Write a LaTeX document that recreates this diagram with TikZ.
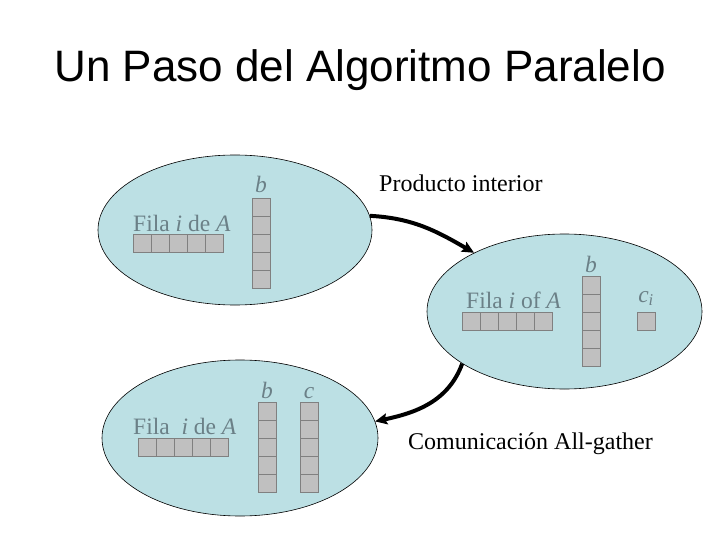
\documentclass[tikz,border=0pt]{standalone}
\usepackage{fontspec}
\setmainfont{Liberation Serif}
\newfontfamily\titlefont{Liberation Sans}
\usetikzlibrary{shapes.geometric,arrows.meta}
\definecolor{blobfill}{RGB}{188,224,228}
\definecolor{txtgray}{RGB}{107,128,135}
\definecolor{cellfill}{RGB}{192,192,192}
\definecolor{celldraw}{RGB}{128,128,128}
\tikzset{
  blob/.style={ellipse, draw=black, line width=0.6pt, fill=blobfill, inner sep=0pt},
  cell/.style={draw=celldraw, fill=cellfill, line width=0.8pt},
  lbl/.style={text=txtgray, font=\fontsize{23.5}{26}\selectfont, inner sep=0pt, anchor=base west},
  blk/.style={text=black, font=\fontsize{24}{26}\selectfont, inner sep=0pt, anchor=base west},
  conn/.style={line width=4pt, -{Stealth[length=12pt,width=11pt,inset=2pt]}},
}
\newcommand{\rowcells}[2]{% x,y top-left
  \foreach \k in {0,...,4} {\draw[cell] ({#1+18*\k},#2) rectangle ++(18,18);}}
\newcommand{\colcells}[2]{%
  \foreach \k in {0,...,4} {\draw[cell] (#1,{#2+18*\k}) rectangle ++(18,18);}}
\begin{document}
\begin{tikzpicture}[x=1pt,y=-1pt]
\useasboundingbox (0,0) rectangle (720,540);
\fill[white] (0,0) rectangle (720,540);
% title
\node[font=\titlefont\fontsize{44}{48}\selectfont, inner sep=0pt, anchor=base] (title) at (360,82) {Un Paso del Algoritmo Paralelo};
% ellipses
\node[blob, minimum width=274pt, minimum height=150pt] (e1) at (235,230) {};
\node[blob, minimum width=275pt, minimum height=155pt] (e2) at (564.5,311.5) {};
\node[blob, minimum width=276pt, minimum height=156pt] (e3) at (240,438) {};
% ellipse 1 content
\node[lbl] (f1) at (133,231) {Fila \textit{i} de \textit{A}};
\rowcells{133}{234}
\node[lbl, anchor=base] (b1) at (261,193) {\textit{b}};
\colcells{252}{198}
% ellipse 2 content
\node[lbl] (f2) at (466,308) {Fila \textit{i} of \textit{A}};
\rowcells{462}{312}
\node[lbl, anchor=base] (b2) at (591,272) {\textit{b}};
\colcells{582}{276}
\node[lbl, anchor=base] (ci) at (646,302) {\textit{c}\textsubscript{\textit{i}}};
\draw[cell] (637,312) rectangle ++(18,18);
% ellipse 3 content
\node[lbl] (f3) at (133,434) {Fila \ \textit{i} de \textit{A}};
\rowcells{138}{438}
\node[lbl, anchor=base] (b3) at (267,398) {\textit{b}};
\colcells{258}{402}
\node[lbl, anchor=base] (c3) at (309,398) {\textit{c}};
\colcells{300}{402}
% labels
\node[blk] (prod) at (379,192) {Producto interior};
\node[blk] (comm) at (408,449) {Comunicación All-gather};
% connectors
\draw[conn] (e1.6.5) to[out=-3, in=150] (e2.147);
\draw[conn] (e2.207) to[out=-110, in=12] (e3.7.5);
\end{tikzpicture}
\end{document}
